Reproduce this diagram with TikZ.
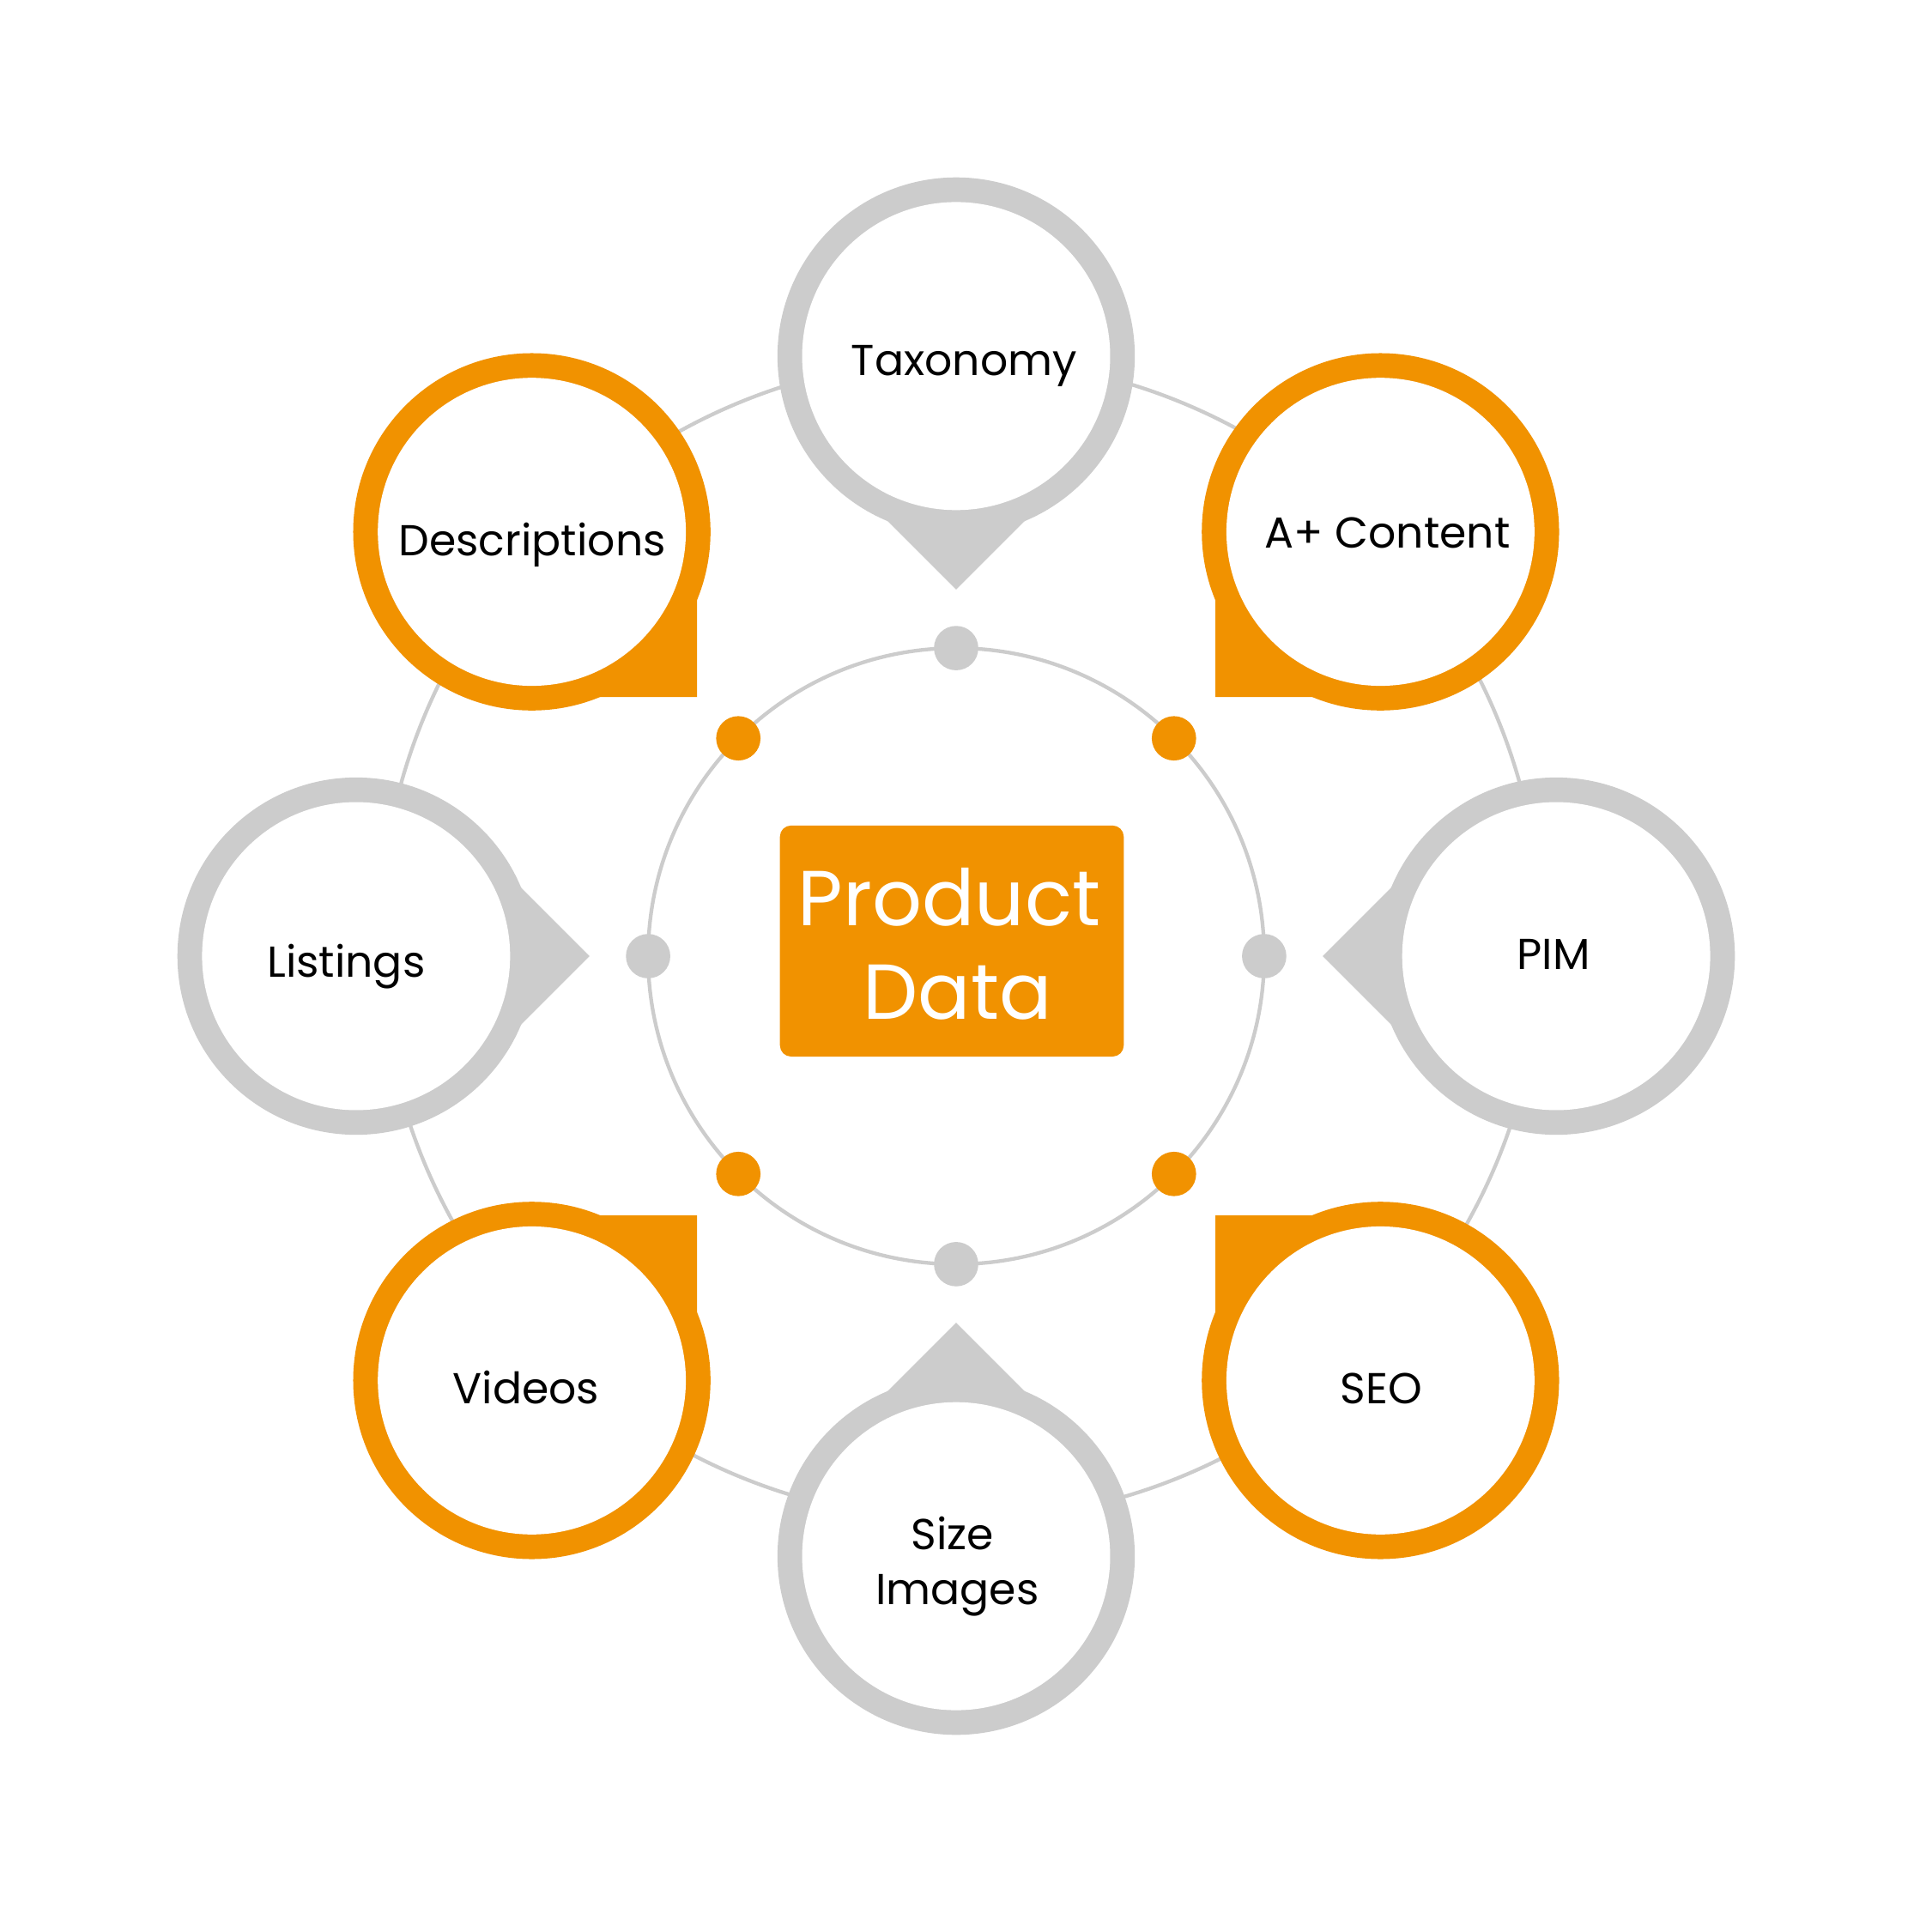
\documentclass[tikz,border=0pt]{standalone}
\usepackage{fontspec}
\setmainfont{Poppins}
\usetikzlibrary{calc}
\definecolor{pdorange}{RGB}{241,146,0}
\definecolor{pdgray}{RGB}{204,204,204}
\tikzset{
  thinring/.style={draw=pdgray, line width=0.85pt},
  dotnode/.style={circle, inner sep=0pt, minimum size=0.36cm, fill=#1},
  label/.style={anchor=base, font=\fontsize{10}{12}\selectfont, text=black, inner sep=0pt},
  bigtext/.style={anchor=base, font=\fontsize{18}{20}\selectfont, text=white, inner sep=0pt},
  core/.style={fill=pdorange, rounded corners=0.09cm}
}
% #1 name, #2 angle of bubble position, #3 colour
\newcommand{\pdbubble}[3]{%
  \coordinate (#1) at (#2:4.87);
  \fill[#3] (#1) circle[radius=1.45cm];
  \fill[#3] (#1) -- ($(#1)+(#2+180+45:1.34cm)$) -- ($(#1)+(#2+180:1.895cm)$) -- ($(#1)+(#2+180-45:1.34cm)$) -- cycle;
  \fill[white] (#1) circle[radius=1.25cm];
}
\begin{document}
\begin{tikzpicture}
\useasboundingbox (-7.76,-7.92) rectangle (7.92,7.76);
\fill[white] (-7.76,-7.92) rectangle (7.92,7.76);
% rings
\coordinate (ringc) at (0.035,0.135);
\draw[thinring] (ringc) circle[radius=4.712cm];
\draw[thinring] (0,0) circle[radius=2.50cm];
% bubbles
\pdbubble{tax}{90}{pdgray}
\pdbubble{aplus}{45}{pdorange}
\pdbubble{pim}{0}{pdgray}
\pdbubble{seo}{-45}{pdorange}
\pdbubble{size}{-90}{pdgray}
\pdbubble{vid}{-135}{pdorange}
\pdbubble{list}{180}{pdgray}
\pdbubble{desc}{135}{pdorange}
% dots
\node[dotnode=pdgray] (d0) at (0:2.50) {};
\node[dotnode=pdorange] (d45) at (45:2.50) {};
\node[dotnode=pdgray] (d90) at (90:2.50) {};
\node[dotnode=pdorange] (d135) at (135:2.50) {};
\node[dotnode=pdgray] (d180) at (180:2.50) {};
\node[dotnode=pdorange] (d225) at (225:2.50) {};
\node[dotnode=pdgray] (d270) at (270:2.50) {};
\node[dotnode=pdorange] (d315) at (315:2.50) {};
% centre
\fill[core] (-1.43,-0.815) rectangle (1.36,1.06);
\node[bigtext] (prod) at (-0.055,0.25) {Product};
\node[bigtext] (data) at (0.01,-0.515) {Data};
% labels
\node[label] (ltax) at (0.065,4.71) {Taxonomy};
\node[label] (laplus) at (3.50,3.31) {A+ Content};
\node[label] (ldesc) at (-3.44,3.25) {Descriptions};
\node[label] (lpim) at (4.85,-0.11) {PIM};
\node[label] (llist) at (-4.95,-0.17) {Listings};
\node[label] (lvid) at (-3.49,-3.63) {Videos};
\node[label] (lseo) at (3.45,-3.63) {SEO};
\node[label] (lsize) at (-0.03,-4.82) {Size};
\node[label] (limg) at (0.01,-5.26) {Images};
\end{tikzpicture}
\end{document}
